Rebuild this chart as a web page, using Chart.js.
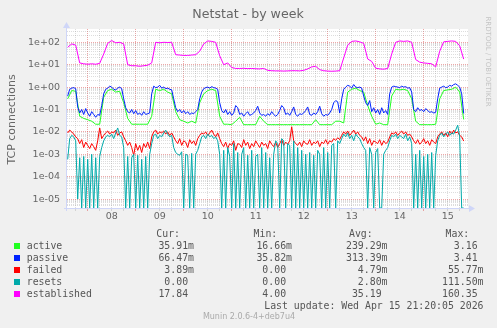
<!DOCTYPE html>
<html>
<head>
<meta charset="utf-8">
<title>Netstat - by week</title>
<script src="https://cdn.jsdelivr.net/npm/chart.js@4.4.0/dist/chart.umd.min.js"></script>
<style>
  html, body { margin: 0; padding: 0; background: #f0f0f0; }
  #wrap { position: relative; width: 497px; height: 328px; }
  canvas { display: block; }
</style>
</head>
<body>
<div id="wrap"><canvas id="netstat" width="497" height="328" style="width:497px;height:328px"></canvas></div>
<script>
// hours counted from Apr 7 00:00; first sample at 14:00
const sampleStart = 14;

// 2-hour samples
const active = [
  0.3, 0.7, 0.65, 0.05, 0.04, 0.035, 0.03, 0.022, 0.022, 0.35,
  0.7, 0.8, 0.6, 0.65, 0.2, 0.04, 0.022, 0.022, 0.022, 0.022,
  0.022, 0.05, 0.8, 0.7, 0.8, 0.6, 0.5, 0.08, 0.035, 0.03,
  0.025, 0.03, 0.025, 0.2, 0.5, 0.7, 0.8, 0.7, 0.05, 0.022,
  0.022, 0.021, 0.03, 0.045, 0.021, 0.021, 0.021, 0.021, 0.05, 0.03,
  0.021, 0.021, 0.021, 0.021, 0.021, 0.021, 0.021, 0.021, 0.021, 0.021,
  0.021, 0.021, 0.035, 0.021, 0.021, 0.021, 0.021, 0.03, 0.03, 0.025,
  0.6, 0.8, 0.9, 0.7, 0.6, 0.15, 0.05, 0.022, 0.025, 0.021,
  0.021, 0.4, 0.8, 0.75, 0.8, 0.7, 0.3, 0.03, 0.021, 0.021,
  0.021, 0.021, 0.022, 0.3, 0.7, 0.75, 0.8, 1.0, 0.6, 0.03591
];
const established = [
  60, 85, 75, 12, 11, 10.5, 11, 10.5, 11.5, 30,
  90, 120, 95, 100, 85, 10, 9, 9, 8.5, 9,
  9.5, 12, 100, 95, 100, 98, 100, 28, 27, 26,
  26, 27, 28, 40, 85, 115, 110, 100, 25, 10,
  12, 7.5, 6.8, 6.8, 6.9, 6.7, 6.8, 6.6, 6.5, 6.8,
  5.6, 5.4, 5.3, 5.3, 5.2, 5.3, 5.4, 5.4, 5.3, 5.6,
  6.5, 8, 8.5, 6, 5.4, 5.2, 5.1, 5.2, 5.4, 20,
  75, 110, 115, 105, 90, 18, 14, 7, 6.5, 6.3,
  6.8, 30, 100, 115, 110, 115, 100, 17, 13, 12,
  11.5, 11, 8, 40, 105, 110, 115, 110, 70, 17.84
];

// 1-hour samples
const passive = [
  0.4, 0.8, 0.9, 0.95, 0.85,
  0.13, 0.07, 0.1, 0.06, 0.11, 0.07, 0.05, 0.08, 0.06, 0.045, 0.06, 0.055,
  0.15, 0.5, 0.8,
  0.9, 1.1, 1.0, 0.8, 0.75, 0.9, 1.0, 0.85,
  0.3, 0.12, 0.08, 0.07, 0.1, 0.065, 0.09, 0.06, 0.07, 0.055, 0.08, 0.06, 0.065, 0.07,
  0.5, 1.1, 0.95, 1.0, 1.2, 0.9, 1.0, 0.85, 0.9, 0.8, 0.75,
  0.3,
  0.12, 0.08, 0.1, 0.07, 0.09, 0.065, 0.08, 0.06, 0.07, 0.065, 0.08, 0.1,
  0.3, 0.6, 0.85, 0.95, 1.0, 0.9, 1.05, 0.95, 0.9, 0.8,
  0.2, 0.09, 0.07, 0.1, 0.06, 0.08, 0.055, 0.07, 0.15, 0.12,
  0.06, 0.07, 0.05, 0.065, 0.08, 0.055, 0.06, 0.07, 0.09, 0.14,
  0.07, 0.055, 0.06, 0.05, 0.065, 0.055, 0.08, 0.06, 0.05, 0.06,
  0.09, 0.15, 0.12, 0.06, 0.07, 0.055, 0.08, 0.13, 0.06, 0.05,
  0.065, 0.06, 0.07, 0.09, 0.13, 0.06, 0.055, 0.07, 0.06, 0.08,
  0.14, 0.065, 0.05, 0.06, 0.055, 0.07, 0.1, 0.2, 0.25, 0.22,
  0.07,
  0.3,
  0.8, 1.0, 1.2, 1.1, 0.9, 1.3, 1.0, 0.95, 1.0, 0.9,
  0.4, 0.2, 0.15, 0.25, 0.08, 0.12, 0.07, 0.1, 0.06, 0.12, 0.07, 0.09, 0.06,
  0.5, 1.0, 1.1, 1.05, 1.0, 0.95, 1.1, 1.0, 1.05, 0.9, 0.95, 0.6,
  0.1, 0.08, 0.12, 0.09, 0.1, 0.08, 0.11, 0.09, 0.075, 0.08, 0.07, 0.075,
  0.3, 0.9, 1.0, 1.1, 0.95, 1.0, 1.2, 1.1, 1.3, 1.4, 1.2, 1.0,
  0.5, 0.06647
];
const failed = [
  0.009, 0.012, 0.01, 0.008, 0.006,
  0.005, 0.003, 0.0045, 0.002, 0.0035, 0.0025, 0.0018, 0.003, 0.0022, 0.0015, 0.004, 0.015,
  0.005, 0.007, 0.009,
  0.011, 0.008, 0.01, 0.009, 0.012, 0.007, 0.009, 0.01,
  0.006, 0.004, 0.0025, 0.0035, 0.002, 0.0009, 0.003, 0.0015, 0.0025, 0.0012, 0.003, 0.002, 0.0035, 0.0018,
  0.006, 0.01, 0.012, 0.008, 0.01, 0.009, 0.011, 0.008, 0.01, 0.007, 0.009,
  0.006,
  0.004, 0.003, 0.005, 0.0025, 0.004, 0.0035, 0.002, 0.0045, 0.003, 0.004, 0.0025, 0.005,
  0.007, 0.009, 0.008, 0.01, 0.007, 0.009, 0.012, 0.008, 0.006, 0.009,
  0.005, 0.003, 0.0022, 0.0035, 0.0018, 0.003, 0.0025, 0.004, 0.0015, 0.003,
  0.0028, 0.002, 0.0045, 0.0025, 0.0035, 0.0018, 0.003, 0.0022, 0.004, 0.0028,
  0.002, 0.0035, 0.0025, 0.003, 0.0018, 0.004, 0.0028, 0.0022, 0.0035, 0.002,
  0.003, 0.0045, 0.0025, 0.0035, 0.0028, 0.004, 0.017, 0.004, 0.003, 0.0025,
  0.0035, 0.0022, 0.004, 0.003, 0.0028, 0.0045, 0.0025, 0.0035, 0.003, 0.004,
  0.0022, 0.0035, 0.003, 0.0045, 0.0028, 0.004, 0.0035, 0.005, 0.0042, 0.0055,
  0.0045,
  0.007,
  0.01, 0.008, 0.011, 0.007, 0.009, 0.012, 0.008, 0.01, 0.007, 0.006,
  0.004, 0.006, 0.003, 0.005, 0.0025, 0.004, 0.0035, 0.003, 0.0045, 0.0025, 0.004, 0.003, 0.0035,
  0.006, 0.009, 0.008, 0.01, 0.007, 0.009, 0.011, 0.008, 0.01, 0.007, 0.008, 0.006,
  0.004, 0.003, 0.0045, 0.0028, 0.0035, 0.005, 0.003, 0.004, 0.0025, 0.0045, 0.0035, 0.003,
  0.006, 0.008, 0.01, 0.007, 0.009, 0.006, 0.011, 0.008, 0.012, 0.009, 0.01, 0.007,
  0.006, 0.00389
];
const resets = [
  0.0006, 0.005, 0.007, 0.006, 0.004,
  0.00001, 0.0007, 0, 0.0008, 0, 0.0006, 0, 0.001, 0, 0.0007, 0, 0.0008,
  0.002, 0.004, 0.006,
  0.007, 0.006, 0.008, 0.005, 0.009, 0.015, 0.007, 0.006,
  0.002, 0, 0.0008, 0, 0.0007, 0.001, 0, 0.0009, 0, 0.0006, 0, 0.0008, 0, 0.001,
  0.003, 0.007, 0.008, 0.005, 0.007, 0.006, 0.009, 0.012, 0.008, 0.006, 0.007,
  0.002,
  0.0012, 0.001, 0.0009, 0.0013, 0, 0.001, 0.0009, 0, 0.0011, 0, 0.001, 0.0015,
  0.003, 0.006, 0.007, 0.005, 0.008, 0.006, 0.007, 0.005, 0.006, 0.004,
  0.001, 0, 0.0015, 0, 0.002, 0.0008, 0, 0.003, 0, 0.0012,
  0, 0.001, 0.002, 0, 0.0009, 0, 0.0015, 0, 0.0008, 0.001,
  0, 0.002, 0, 0.0012, 0, 0.0007, 0, 0.001, 0.004, 0.003,
  0, 0.005, 0.004, 0, 0.003, 0.0025, 0, 0.004, 0, 0.002,
  0, 0.0015, 0, 0.001, 0, 0.0012, 0, 0.0009, 0, 0.0015,
  0.001, 0, 0.002, 0, 0.0012, 0, 0.0025, 0.003, 0, 0.004,
  0.003,
  0.005,
  0.008, 0.006, 0.009, 0.005, 0.007, 0.004, 0.008, 0.006, 0.005, 0.003,
  0.002, 0.0015, 0, 0.002, 0.001, 0, 0.0012, 0.0018, 0, 0, 0.001, 0.0015, 0.002,
  0.004, 0.007, 0.006, 0.008, 0.005, 0.007, 0.006, 0.005, 0.008, 0.004, 0.006, 0.003,
  0, 0.001, 0, 0.0015, 0, 0.0008, 0, 0.001, 0, 0.0012, 0, 0.0009,
  0.004, 0.007, 0.009, 0.006, 0.008, 0.01, 0.007, 0.009, 0.008, 0.012, 0.02, 0.006,
  0, 0
];

const seriesNames = ['active', 'passive', 'failed', 'resets', 'established'];
const seriesColors = ['#22ff22', '#0022ff', '#ff0000', '#00aaaa', '#ff00ff'];
const curText = ['35.91m', '66.47m', '3.89m', '0.00 ', '17.84 '];
const minText = ['16.66m', '35.82m', '0.00 ', '0.00 ', '4.00 '];
const avgText = ['239.29m', '313.39m', '4.79m', '2.80m', '35.19 '];
const maxText = ['3.16 ', '3.41 ', '55.77m', '111.50m', '160.35 '];
const dayLabels = ['08', '09', '10', '11', '12', '13', '14', '15'];
const lastUpdate = 'Last update: Wed Apr 15 21:20:05 2026';

// axis range (log y, time in hours on x)
const Y_MIN = 4e-6;
const Y_MAX = 393;
const X_MIN = 13.65;
const X_MAX = 214.15;

const GRID = 'rgba(143,143,143,0.3)';
const MGRID = 'rgba(222,80,80,0.5)';
const AXIS = '#cfd6f8';
const FONT = '#666666';

const twoHourly = active.map((_, i) => sampleStart + 2 * i);
const hourly = passive.map((_, i) => sampleStart + i);

// zero can't sit on a log axis, rrdtool draws it on the floor
function points(values, times) {
  return times.map((h, i) => ({ x: h, y: values[i] === 0 ? Y_MIN : values[i] }));
}

const allSeries = [
  [active, twoHourly],
  [passive, hourly],
  [failed, hourly],
  [resets, hourly],
  [established, twoHourly]
];

const datasets = allSeries.map(([values, times], i) => ({
  label: seriesNames[i],
  data: points(values, times),
  borderColor: seriesColors[i],
  borderWidth: 1,
  pointRadius: 0,
  tension: 0,
  fill: false,
  order: allSeries.length - i
}));

// white plot canvas, axis arrows, title and the legend table
const muninPlugin = {
  id: 'munin',
  beforeDraw(chart) {
    const { ctx, chartArea: a } = chart;
    ctx.save();
    ctx.fillStyle = '#ffffff';
    ctx.fillRect(a.left, a.top, a.right - a.left, a.bottom - a.top);
    ctx.restore();
  },
  afterDatasetsDraw(chart) {
    const { ctx, chartArea: a } = chart;
    ctx.save();
    ctx.strokeStyle = AXIS;
    ctx.fillStyle = AXIS;
    ctx.lineWidth = 1;
    ctx.beginPath();
    ctx.moveTo(a.left - 3, a.bottom + 0.5);
    ctx.lineTo(a.right + 2, a.bottom + 0.5);
    ctx.moveTo(a.left - 0.5, a.bottom + 3);
    ctx.lineTo(a.left - 0.5, a.top - 1);
    ctx.stroke();
    ctx.beginPath();
    ctx.moveTo(a.right + 1, a.bottom - 3);
    ctx.lineTo(a.right + 7, a.bottom + 0.5);
    ctx.lineTo(a.right + 1, a.bottom + 4);
    ctx.closePath();
    ctx.fill();
    ctx.beginPath();
    ctx.moveTo(a.left - 4, a.top - 1);
    ctx.lineTo(a.left - 0.5, a.top - 7);
    ctx.lineTo(a.left + 3, a.top - 1);
    ctx.closePath();
    ctx.fill();
    ctx.restore();
  },
  afterDraw(chart) {
    const ctx = chart.ctx;
    ctx.save();
    ctx.textBaseline = 'alphabetic';

    ctx.fillStyle = FONT;
    ctx.font = '12.6px "DejaVu Sans"';
    ctx.textAlign = 'center';
    ctx.fillText('Netstat - by week', 248, 18);

    ctx.save();
    ctx.translate(15, 119.5);
    ctx.rotate(-Math.PI / 2);
    ctx.font = '11px "DejaVu Sans"';
    ctx.fillText('TCP connections', 0, 0);
    ctx.restore();

    ctx.save();
    ctx.translate(486, 61.5);
    ctx.rotate(Math.PI / 2);
    ctx.font = '7px "DejaVu Sans"';
    ctx.fillStyle = '#c4c4c4';
    ctx.fillText('RRDTOOL / TOBI OETIKER', 0, 0);
    ctx.restore();

    ctx.font = '9.85px "DejaVu Sans Mono"';
    ctx.fillStyle = '#555555';
    ctx.textAlign = 'right';
    const heads = [['Cur:', 180], ['Min:', 277.3], ['Avg:', 372.7], ['Max:', 469.3]];
    heads.forEach(([t, x]) => ctx.fillText(t, x, 237));

    const cols = [[curText, 194], [minText, 292], [avgText, 387.5], [maxText, 483.5]];
    seriesNames.forEach((name, i) => {
      const base = 249 + 12 * i;
      ctx.fillStyle = seriesColors[i];
      ctx.fillRect(14, base - 6, 6, 6);
      ctx.fillStyle = '#555555';
      ctx.textAlign = 'left';
      ctx.fillText(name, 26.7, base);
      ctx.textAlign = 'right';
      cols.forEach(([texts, x]) => ctx.fillText(texts[i], x, base));
    });
    ctx.fillText(lastUpdate, 483.5, 309);

    ctx.font = '8px "DejaVu Sans"';
    ctx.fillStyle = '#aaaaaa';
    ctx.textAlign = 'center';
    ctx.fillText('Munin 2.0.6-4+deb7u4', 249, 319.3);
    ctx.restore();
  }
};

new Chart(document.getElementById('netstat'), {
  type: 'line',
  data: { datasets },
  plugins: [muninPlugin],
  options: {
    responsive: false,
    devicePixelRatio: 1,
    animation: false,
    events: [],
    layout: { padding: { top: 29, right: 29, bottom: 100, left: 0 } },
    plugins: { legend: { display: false }, tooltip: { enabled: false } },
    scales: {
      x: {
        type: 'linear',
        min: X_MIN,
        max: X_MAX,
        bounds: 'data',
        afterFit(scale) { scale.height = 20; },
        afterBuildTicks(scale) {
          const ticks = [];
          for (let h = 18; h <= 210; h += 6) ticks.push({ value: h });
          scale.ticks = ticks;
        },
        ticks: {
          autoSkip: false,
          maxRotation: 0,
          padding: 0,
          color: FONT,
          font: { family: 'DejaVu Sans', size: 9.5 },
          callback: v => (v % 24 === 12 ? dayLabels[(v - 36) / 24] : '')
        },
        grid: {
          color: ctx => (ctx.tick && ctx.tick.value % 24 === 0 ? MGRID : GRID),
          tickColor: ctx => (ctx.tick && ctx.tick.value % 24 === 0 ? MGRID : GRID),
          drawTicks: true,
          tickLength: 3,
          lineWidth: 1
        },
        border: { display: false, dash: [1, 1] }
      },
      y: {
        type: 'logarithmic',
        min: Y_MIN,
        max: Y_MAX,
        bounds: 'data',
        afterFit(scale) { scale.width = 67; },
        afterBuildTicks(scale) {
          const ticks = [];
          for (let e = -6; e <= 2; e++) {
            for (let k = 1; k <= 9; k++) {
              const v = k * Math.pow(10, e);
              if (v < Y_MIN || v > Y_MAX) continue;
              const exp = (e < 0 ? '-' : '+') + String(Math.abs(e)).padStart(2, '0');
              ticks.push({ value: v, decade: k === 1 ? '1e' + exp : '' });
            }
          }
          scale.ticks = ticks;
        },
        ticks: {
          autoSkip: false,
          padding: 7,
          color: FONT,
          font: { family: 'DejaVu Sans', size: 9.5 },
          callback: (v, i, ticks) => ticks[i].decade || ''
        },
        grid: {
          color: ctx => (ctx.tick && ctx.tick.decade ? MGRID : GRID),
          drawTicks: false,
          lineWidth: 1
        },
        border: { display: false, dash: [1, 1] }
      }
    }
  }
});
</script>
</body>
</html>
